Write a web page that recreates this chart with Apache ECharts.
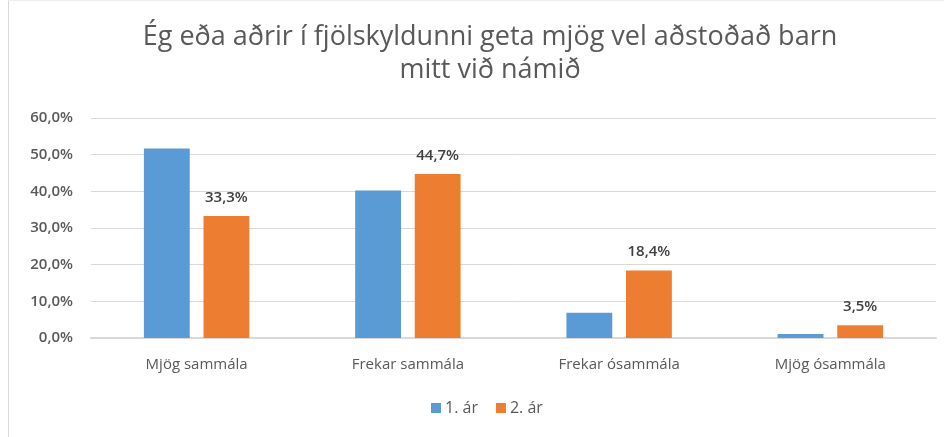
<!DOCTYPE html>
<html>
<head>
<meta charset="utf-8">
<script src="https://cdn.jsdelivr.net/npm/echarts@6/dist/echarts.min.js"></script>
<style>
  html, body { margin: 0; padding: 0; background: #fff; }
  #chart { width: 944px; height: 437px; }
</style>
</head>
<body>
<div id="chart"></div>
<script>
const titleText = 'Ég eða aðrir í fjölskyldunni geta mjög vel aðstoðað barn\nmitt við námið';
const categories = ['Mjög sammála', 'Frekar sammála', 'Frekar ósammála', 'Mjög ósammála'];
const seriesNames = ['1. ár', '2. ár'];
const year1 = [51.7, 40.2, 6.9, 1.1];
const year2 = [33.3, 44.7, 18.4, 3.5];

const fmt = v => v.toFixed(1).replace('.', ',') + '%';
const font = '"Open Sans", Lato, sans-serif';

const chart = echarts.init(document.getElementById('chart'), null, { renderer: 'canvas' });
chart.setOption({
  animation: false,
  textStyle: { fontFamily: font },
  title: {
    text: titleText,
    left: 485,
    textAlign: 'center',
    top: 16,
    textStyle: { fontFamily: font, fontSize: 27, fontWeight: 'normal', color: '#595959', lineHeight: 33 }
  },
  legend: {
    bottom: 16,
    left: 426,
    itemWidth: 10,
    itemHeight: 10,
    itemGap: 18,
    icon: 'rect',
    textStyle: { fontFamily: font, fontSize: 16, color: '#595959', padding: [0, 0, 0, -1] },
    data: seriesNames
  },
  grid: { left: 91, right: 8, top: 118, bottom: 99, containLabel: false },
  xAxis: {
    type: 'category',
    data: categories,
    axisLine: { lineStyle: { color: '#d9d9d9', width: 2 } },
    axisTick: { show: false },
    axisLabel: { fontFamily: font, fontSize: 15, color: '#595959', margin: 19 }
  },
  yAxis: {
    type: 'value',
    min: 0,
    max: 60,
    interval: 10,
    axisLine: { show: false },
    axisTick: { show: false },
    splitLine: { lineStyle: { color: '#d9d9d9', width: 1 } },
    axisLabel: { fontFamily: font, fontSize: 15, fontWeight: 600, color: '#595959', margin: 18, formatter: v => fmt(v) }
  },
  series: [
    {
      name: seriesNames[0],
      type: 'bar',
      data: year1,
      barWidth: '21.7%',
      barGap: '30%',
      itemStyle: { color: '#5b9bd5' }
    },
    {
      name: seriesNames[1],
      type: 'bar',
      data: year2,
      barWidth: '21.7%',
      itemStyle: { color: '#ed7d31' },
      label: {
        show: true,
        position: 'top',
        distance: 11,
        fontFamily: font,
        fontSize: 15,
        fontWeight: 600,
        color: '#404040',
        formatter: p => fmt(p.value)
      }
    }
  ],
  graphic: [
    { type: 'line', shape: { x1: 8.5, y1: 0, x2: 8.5, y2: 437 }, style: { stroke: '#d9d9d9', lineWidth: 1 } },
    { type: 'line', shape: { x1: 8, y1: 0.5, x2: 944, y2: 0.5 }, style: { stroke: '#eeeeee', lineWidth: 1 } }
  ]
});
</script>
</body>
</html>
